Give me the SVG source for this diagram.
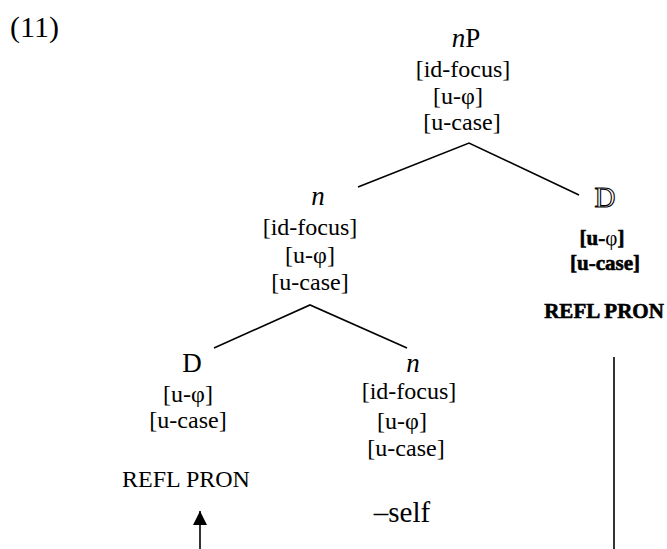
<svg xmlns="http://www.w3.org/2000/svg" width="667" height="549" viewBox="0 0 667 549">
  <style>
    text { font-family: "Liberation Serif", "Times New Roman", serif; fill: #000; text-anchor: middle; }
    .lbl { font-size: 27px; }
    .ft { font-size: 24px; }
    .it { font-style: italic; }
    .ol { font-size: 29px; fill: #fff; stroke: #000; stroke-width: 1.1; }
    .bf { font-size: 21px; font-weight: bold; stroke: #000; stroke-width: 0.6; }
    .edge { stroke: #000; stroke-width: 1.6; fill: none; }
  </style>
  <defs>
    <marker id="arrow" viewBox="0 0 10 10" refX="10" refY="5" markerWidth="14" markerHeight="14" markerUnits="userSpaceOnUse" orient="auto">
      <path d="M0,0 L10,5 L0,10 Z" fill="#000"/>
    </marker>
  </defs>

  <text x="10" y="37" style="font-size:30px;text-anchor:start">(11)</text>

  <g id="connectors">
    <polyline class="edge" points="358,187 469,143 579,195"/>
    <polyline class="edge" points="214,348 310,305 407,348"/>
    <line class="edge" x1="614" y1="357" x2="614" y2="549"/>
    <line class="edge" x1="200" y1="549" x2="200" y2="511" marker-end="url(#arrow)"/>
  </g>

  <g id="nP">
    <text class="lbl" x="466" y="47"><tspan class="it">n</tspan>P</text>
    <text class="ft" x="463" y="77">[id-focus]</text>
    <text class="ft" x="458" y="104">[u-φ]</text>
    <text class="ft" x="462" y="130">[u-case]</text>
  </g>

  <g id="n-mid">
    <text class="lbl it" x="318" y="205">n</text>
    <text class="ft" x="310" y="235">[id-focus]</text>
    <text class="ft" x="310" y="263">[u-φ]</text>
    <text class="ft" x="310" y="290">[u-case]</text>
  </g>

  <g id="D-right">
    <text class="ol" x="605" y="207">D</text>
    <text class="bf" x="602" y="245">[u-<tspan style="font-weight:normal;stroke:none">φ</tspan>]</text>
    <text class="bf" x="605" y="270">[u-case]</text>
    <text class="bf" x="604" y="318">REFL PRON</text>
  </g>

  <g id="D-left">
    <text class="lbl" x="192" y="372">D</text>
    <text class="ft" x="188" y="402">[u-φ]</text>
    <text class="ft" x="188" y="428">[u-case]</text>
    <text class="ft" x="186" y="487">REFL PRON</text>
  </g>

  <g id="n-low">
    <text class="lbl it" x="413" y="372">n</text>
    <text class="ft" x="409" y="399">[id-focus]</text>
    <text class="ft" x="402" y="429">[u-φ]</text>
    <text class="ft" x="406" y="456">[u-case]</text>
    <text x="402" y="522" style="font-size:29px">–self</text>
  </g>
</svg>
